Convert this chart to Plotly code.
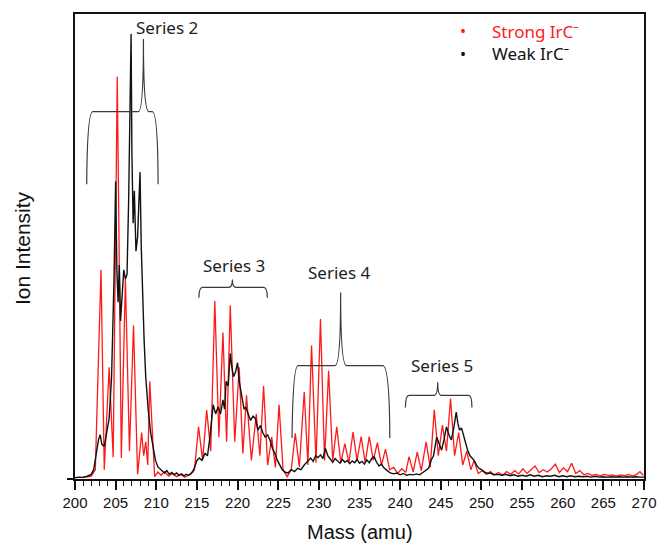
import plotly.graph_objects as go

# Mass spectra (mass in amu, intensity in arbitrary units)
strong_mass = [
    200.0, 200.5, 201.0, 201.5, 202.0, 202.5, 203.2, 203.6, 204.2, 204.7,
    205.2, 205.7, 206.2, 206.7, 207.2, 207.7, 208.2, 208.45, 208.7, 208.95,
    209.2, 209.8, 210.2, 210.6, 211.0, 211.5, 212.0, 212.5, 213.0, 213.5,
    214.0, 214.5, 214.7, 215.2, 215.7, 216.2, 216.7, 217.2, 217.7, 218.2,
    218.65, 219.1, 219.65, 220.2, 220.65, 221.1, 221.7, 222.3, 222.75, 223.2,
    223.7, 224.2, 224.65, 225.1, 225.6, 226.1, 226.6, 227.1, 227.6, 228.2,
    228.65, 229.1, 229.65, 230.2, 230.7, 231.2, 231.7, 232.2, 232.7, 233.2,
    233.7, 234.2, 234.7, 235.2, 235.7, 236.2, 236.7, 237.2, 237.7, 238.2,
    238.7, 239.2, 239.7, 240.2, 240.7, 241.1, 241.6, 242.1, 242.6, 243.2,
    243.7, 244.2, 244.7, 245.2, 245.7, 246.2, 246.7, 247.2, 247.7, 248.2,
    248.7, 249.1, 249.6, 250.1, 250.6, 251.1, 251.6, 252.1, 252.6, 253.1,
    253.6, 254.1, 254.6, 255.1, 255.6, 256.1, 256.6, 257.1, 257.6, 258.1,
    258.6, 259.1, 259.6, 260.1, 260.6, 261.1, 261.6, 262.1, 262.6, 263.1,
    263.6, 264.1, 264.6, 265.1, 265.6, 266.1, 266.6, 267.1, 267.6, 268.1,
    268.6, 269.1, 269.5, 269.9,
]
strong_int = [
    0.3, 0.4, 0.3, 0.5, 0.6, 2.0, 45.0, 2.0, 24.0, 4.7,
    86.5, 4.5, 43.0, 6.0, 33.0, 1.0, 10.0, 5.0, 8.0, 3.0,
    21.0, 0.5, 1.5, 0.8, 1.6, 0.6, 1.2, 0.5, 1.0, 0.4,
    0.8, 1.5, 2.0, 11.2, 4.0, 14.8, 6.0, 38.3, 9.0, 31.5,
    8.0, 37.3, 8.0, 24.0, 5.5, 18.0, 4.0, 14.0, 5.0, 20.0,
    3.0, 9.0, 2.5, 16.0, 2.0, 0.5, 2.0, 9.8, 2.6, 18.7,
    3.0, 28.7, 3.5, 34.4, 4.0, 23.3, 4.0, 11.2, 3.5, 7.6,
    3.5, 10.1, 4.0, 9.1, 3.5, 9.1, 4.0, 7.8, 3.0, 6.4,
    2.0, 2.5, 1.2, 2.2, 1.4, 4.8, 1.5, 5.8, 1.8, 8.0,
    2.5, 14.9, 5.0, 11.6, 6.0, 17.3, 5.0, 10.0, 3.0, 6.0,
    2.0, 4.0, 1.2, 1.8, 1.0, 1.6, 0.9, 1.4, 0.8, 1.6,
    1.0, 1.8, 1.1, 2.2, 1.2, 2.0, 2.8, 1.4, 2.0, 1.5,
    2.2, 3.2, 1.4, 2.4, 1.6, 3.4, 1.2, 1.8, 0.9, 1.2,
    0.8, 1.0, 0.7, 1.0, 0.8, 0.9, 0.6, 0.9, 0.7, 1.0,
    0.6, 1.0, 1.6, 0.8,
]

weak_mass = [
    200.0, 200.5, 201.0, 201.5, 202.0, 202.3, 202.6, 202.9, 203.1, 203.3,
    203.6, 203.9, 204.2, 204.5, 204.8, 205.0, 205.15, 205.3, 205.45, 205.6,
    205.8, 206.0, 206.2, 206.4, 206.6, 206.8, 206.9, 207.0, 207.15, 207.3,
    207.5, 207.7, 207.85, 208.0, 208.15, 208.3, 208.5, 208.7, 208.85, 209.0,
    209.3, 209.6, 209.9, 210.2, 210.5, 210.8, 211.0, 211.3, 211.6, 211.9,
    212.2, 212.5, 212.8, 213.1, 213.4, 213.7, 214.0, 214.3, 214.6, 215.0,
    215.3, 215.6, 216.0, 216.3, 216.6, 217.0, 217.3, 217.6, 217.9, 218.2,
    218.4, 218.6, 218.85, 219.1, 219.3, 219.5, 219.75, 220.0, 220.2, 220.4,
    220.6, 220.8, 221.0, 221.3, 221.6, 221.9, 222.2, 222.5, 222.8, 223.1,
    223.4, 223.7, 224.0, 224.3, 224.6, 224.9, 225.2, 225.5, 225.8, 226.2,
    226.6, 227.0, 227.4, 227.8, 228.2, 228.6, 229.0, 229.3, 229.6, 229.9,
    230.2, 230.5, 230.8, 231.1, 231.4, 231.7, 232.0, 232.3, 232.6, 232.9,
    233.2, 233.5, 233.8, 234.1, 234.4, 234.7, 235.0, 235.3, 235.6, 235.9,
    236.2, 236.5, 236.8, 237.1, 237.4, 237.7, 238.0, 238.4, 238.8, 239.2,
    239.6, 240.0, 240.4, 240.8, 241.2, 241.6, 242.0, 242.4, 242.8, 243.2,
    243.5, 243.8, 244.1, 244.5, 244.8, 245.1, 245.4, 245.7, 246.0, 246.3,
    246.6, 246.9, 247.1, 247.3, 247.55, 247.8, 248.05, 248.3, 248.6, 248.85,
    249.1, 249.4, 249.7, 250.0, 250.4, 250.8, 251.1, 251.5, 252.0, 252.5,
    253.0, 253.5, 254.0, 254.5, 255.0, 255.5, 256.0, 256.5, 257.0, 257.5,
    258.0, 258.5, 259.0, 259.5, 260.0, 260.5, 261.0, 261.5, 262.0, 262.5,
    263.0, 263.5, 264.0, 264.5, 265.0, 265.5, 266.0, 266.5, 267.0, 267.5,
    268.0, 268.5, 269.0, 269.5, 270.0,
]
weak_int = [
    0.3, 0.3, 0.4, 0.6, 1.0, 2.0, 5.0, 8.5, 9.5, 7.5,
    7.0, 10.0, 13.0, 22.0, 43.0, 64.0, 45.0, 38.0, 46.0, 34.0,
    40.0, 45.0, 43.0, 44.0, 60.0, 80.0, 95.7, 70.0, 55.0, 62.0,
    49.0, 52.0, 58.0, 66.0, 50.0, 39.0, 30.0, 22.0, 18.0, 15.0,
    10.0, 7.0, 4.0, 2.6, 2.0, 1.6, 1.3, 1.8, 1.0, 1.4,
    0.9, 1.3, 0.8, 1.1, 0.7, 1.0, 0.8, 1.2, 2.0, 4.0,
    4.5, 4.0, 5.5, 5.0, 9.0, 16.0, 14.0, 15.5, 14.0, 17.0,
    15.0, 21.0, 20.0, 27.0, 24.0, 22.0, 23.0, 25.0, 21.0, 19.0,
    17.6, 15.0, 15.5, 14.0, 12.6, 13.5, 13.0, 10.5, 11.5, 10.0,
    9.0, 9.5, 8.3, 6.5, 5.5, 4.0, 2.8, 2.0, 1.5, 1.3,
    2.0, 1.6, 2.3, 2.0, 3.0, 3.8, 4.5, 3.8, 5.0, 4.6,
    5.2, 4.4, 6.6, 5.0, 4.2, 3.6, 4.4, 3.8, 3.4, 4.2,
    3.6, 4.0, 3.3, 3.9, 3.5, 4.2, 3.4, 3.8, 3.2, 4.1,
    3.5, 4.4, 4.8, 3.6, 2.8, 3.2, 2.4, 1.8, 1.3, 1.1,
    1.3, 0.9, 1.2, 0.8, 1.0, 0.9, 1.1, 0.9, 1.4, 1.8,
    2.3, 4.0, 5.0, 9.0, 7.5, 6.2, 8.5, 11.2, 9.5, 8.4,
    11.0, 14.4, 12.0, 10.5, 11.0, 9.4, 7.5, 6.2, 5.0, 4.5,
    4.0, 3.0, 2.3, 2.0, 1.5, 1.2, 1.3, 0.9, 1.0, 0.8,
    1.0, 0.7, 0.9, 0.6, 0.8, 0.6, 0.9, 0.6, 0.8, 0.5,
    0.7, 0.6, 0.8, 0.5, 0.7, 0.5, 0.7, 0.5, 0.6, 0.5,
    0.6, 0.4, 0.6, 0.4, 0.5, 0.4, 0.5, 0.4, 0.5, 0.4,
    0.5, 0.4, 0.5, 0.4, 0.4,
]

x_ticks = [200, 205, 210, 215, 220, 225, 230, 235, 240, 245, 250, 255, 260, 265, 270]

# Series labels: (text, mass, intensity) for label centres
series_labels = [
    ("Series 2", 211.3, 97.0),
    ("Series 3", 219.6, 46.0),
    ("Series 4", 232.5, 44.5),
    ("Series 5", 245.2, 24.4),
]

RED = "#ff1a1a"
BLACK = "#111111"
BRACE = "#3a3a3a"

fig = go.Figure()
fig.add_trace(go.Scatter(x=strong_mass, y=strong_int, mode="lines",
                         line=dict(color=RED, width=1.3), name="Strong IrC⁻",
                         showlegend=False))
fig.add_trace(go.Scatter(x=weak_mass, y=weak_int, mode="lines",
                         line=dict(color=BLACK, width=1.4), name="Weak IrC⁻",
                         showlegend=False))

# Curly braces over each series (mass, intensity coordinates)
braces = [
    # Series 2: tall brace with long legs and an off-centre cusp
    "M 201.44,63.4 Q 201.5,79 202.2,79 L 207.8,79 Q 208.42,79 208.42,94.6 "
    "Q 208.42,79 209.1,79 L 209.5,79 Q 210.2,79 210.22,63.4",
    # Series 3
    "M 215.24,39.0 Q 215.24,41.2 215.7,41.2 L 218.9,41.2 Q 219.36,41.2 219.36,42.9 "
    "Q 219.36,41.2 219.8,41.2 L 223.2,41.2 Q 223.66,41.2 223.66,39.0",
    # Series 4: tall brace
    "M 226.70,8.8 Q 226.8,24.4 227.45,24.4 L 232.0,24.4 Q 232.68,24.4 232.68,40.1 "
    "Q 232.68,24.4 233.4,24.4 L 237.85,24.4 Q 238.7,24.4 238.73,8.8",
    # Series 5
    "M 240.65,15.4 Q 240.65,18.0 241.1,18.0 L 244.2,18.0 Q 244.62,18.0 244.62,20.8 "
    "Q 244.62,18.0 245.05,18.0 L 248.4,18.0 Q 248.83,18.0 248.83,15.4",
]
for p in braces:
    fig.add_shape(type="path", path=p, xref="x", yref="y",
                  line=dict(color=BRACE, width=1.2))

label_font = dict(family="Noto Sans, Open Sans, sans-serif", size=17, color="#222222")
for text, mx, my in series_labels:
    fig.add_annotation(x=mx, y=my, xref="x", yref="y", text=text, showarrow=False,
                       font=label_font, xanchor="center", yanchor="middle")

# Legend drawn as bullet + text
legend_items = [("Strong IrC⁻", RED, 0.963), ("Weak IrC⁻", BLACK, 0.915)]
for text, col, yy in legend_items:
    fig.add_annotation(x=0.6816, y=yy, xref="paper", yref="paper", text="•",
                       showarrow=False, font=dict(family="Noto Sans", size=16, color=col),
                       xanchor="center", yanchor="middle")
    fig.add_annotation(x=0.7302, y=yy, xref="paper", yref="paper", text=text,
                       showarrow=False, font=dict(family="Noto Sans", size=17, color=col),
                       xanchor="left", yanchor="middle")

# Axis titles
fig.add_annotation(x=0.5, y=-0.113, xref="paper", yref="paper", text="Mass (amu)",
                   showarrow=False, font=dict(family="Liberation Sans, Arial", size=20, color="#111"),
                   xanchor="center", yanchor="middle")
fig.add_annotation(x=-0.091, y=0.497, xref="paper", yref="paper", text="Ion Intensity",
                   textangle=-90, showarrow=False,
                   font=dict(family="Liberation Sans, Arial", size=21, color="#111"),
                   xanchor="center", yanchor="middle")

fig.update_xaxes(range=[200, 270], tickvals=x_ticks, ticktext=[str(t) for t in x_ticks],
                 ticks="outside", ticklen=9, tickwidth=1.5, tickcolor="#111",
                 minor=dict(dtick=1, ticks="outside", ticklen=5, tickwidth=1.2, tickcolor="#111"),
                 showline=True, linecolor="#111", linewidth=1.6, mirror=True,
                 showgrid=False, zeroline=False,
                 tickfont=dict(family="Liberation Sans, Arial", size=15, color="#111"))
fig.update_yaxes(range=[0, 100], tickvals=[0], showticklabels=False,
                 ticks="outside", ticklen=6, tickwidth=1.5, tickcolor="#111",
                 showline=True, linecolor="#111", linewidth=1.6, mirror=True,
                 showgrid=False, zeroline=False)

fig.update_layout(width=669, height=545, margin=dict(l=75, r=12, t=12, b=66),
                  plot_bgcolor="white", paper_bgcolor="white", showlegend=False)

fig.write_html("out.html")
